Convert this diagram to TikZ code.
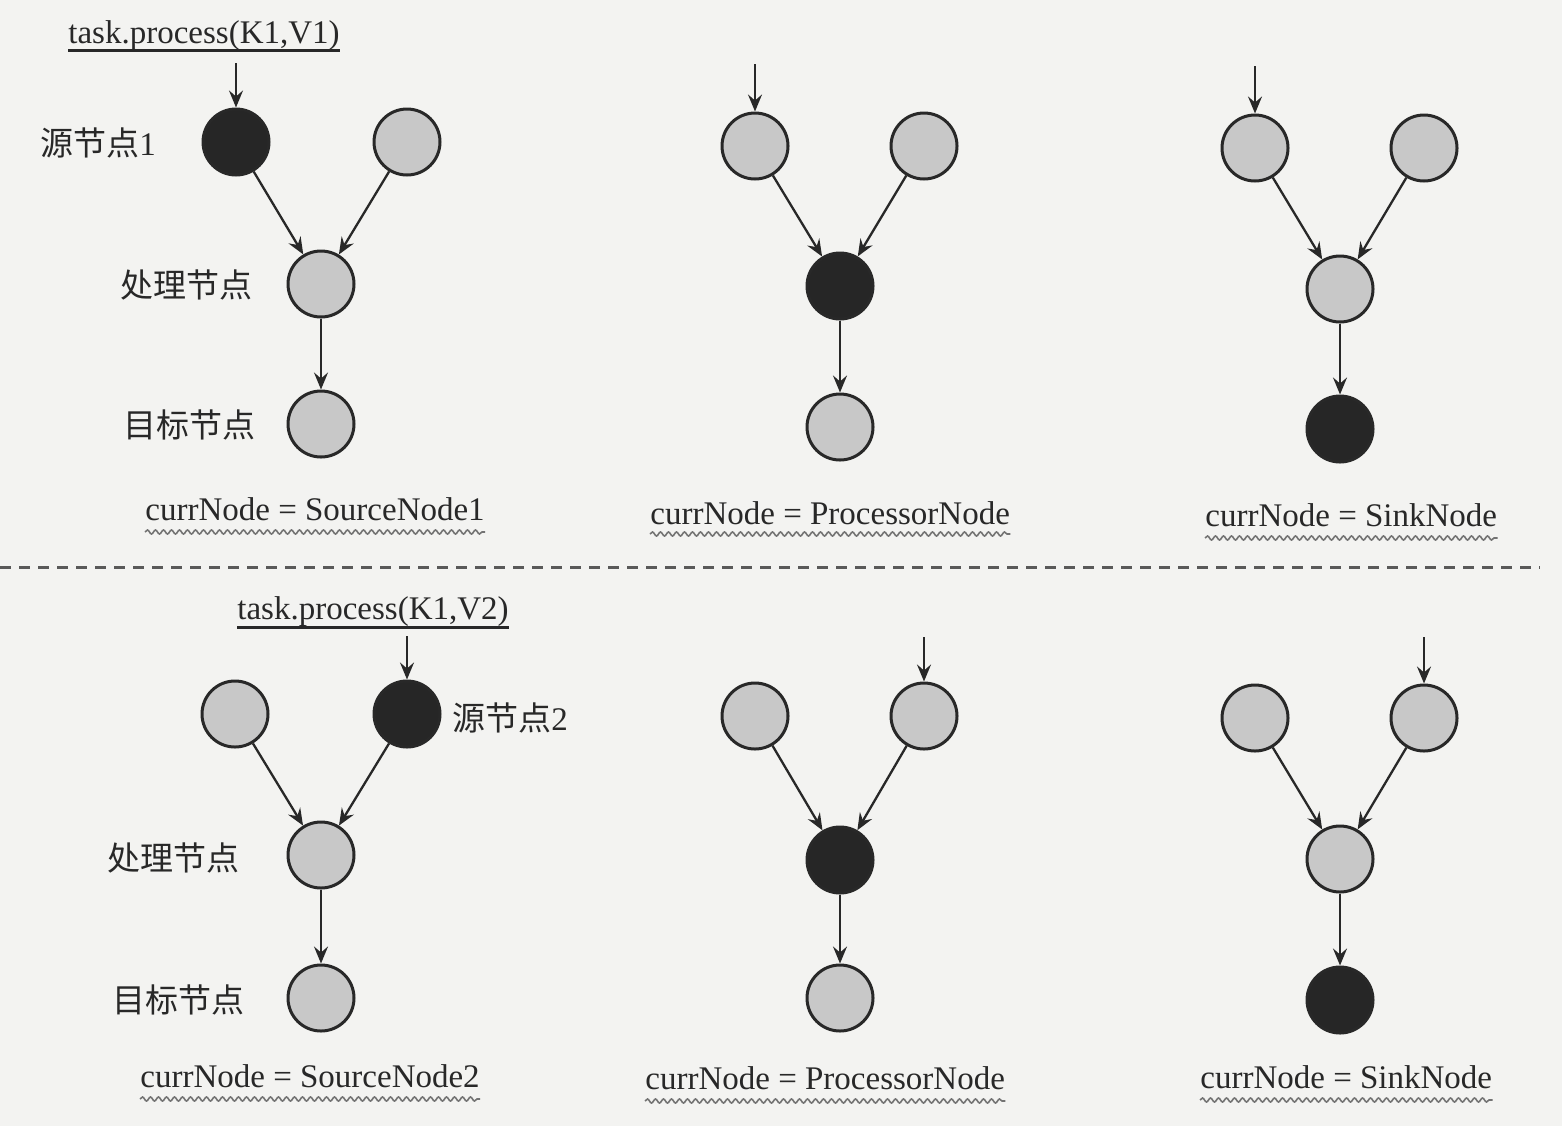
\documentclass[tikz,border=0pt]{standalone}
\usepackage{fontspec}
\setmainfont{Liberation Serif}
\newfontfamily\cjk{Noto Sans CJK SC}
\usetikzlibrary{arrows.meta,decorations.pathmorphing}
\definecolor{bgc}{RGB}{243,243,241}
\definecolor{nodegray}{RGB}{200,200,200}
\definecolor{nodedark}{RGB}{38,38,38}
\definecolor{inkc}{RGB}{40,40,40}
\begin{document}
\begin{tikzpicture}[x=0.5pt,y=-0.5pt,
  every node/.style={inner sep=0pt, text=inkc, font=\fontsize{16.5pt}{19pt}\selectfont},
  gnode/.style={circle, draw=inkc, line width=1.5pt, fill=nodegray, minimum size=33pt},
  bnode/.style={gnode, fill=nodedark},
  edge/.style={draw=inkc, line width=1.15pt, -{Stealth[length=8.5pt,width=7pt,inset=3pt]}},
  lbl/.style={anchor=west, font=\fontsize{16.5pt}{19pt}\cjk},
  cur/.style={anchor=base west},
  task/.style={anchor=base west},
  uline/.style={draw=inkc, line width=1.5pt},
  wavy/.style={draw=black!55, line width=0.8pt, decorate, decoration={snake, amplitude=1pt, segment length=4pt}},
  dashline/.style={draw=black!65, line width=1.5pt, dash pattern=on 5.5pt off 4pt}
]
\useasboundingbox (0,0) rectangle (1562,1126);
\fill[bgc] (0,0) rectangle (1562,1126);

% ---------- top half ----------
\node[task] (t1) at (68,43) {task.process(K1,V1)};
\draw[uline] ([yshift=-3.5pt]t1.base west) -- ([yshift=-3.5pt]t1.base east);

% top-left graph
\node[bnode] (A1) at (236,142) {};
\node[gnode] (A2) at (407,142) {};
\node[gnode] (A3) at (321,284) {};
\node[gnode] (A4) at (321,424) {};
\coordinate (a0) at (236,63);
\draw[edge] (a0) -- (A1);
\draw[edge] (A1) -- (A3);
\draw[edge] (A2) -- (A3);
\draw[edge] (A3) -- (A4);
\node[lbl] (l1) at (40,143) {源节点{\rmfamily 1}};
\node[lbl] (l2) at (120,285) {处理节点};
\node[lbl] (l3) at (123,425) {目标节点};
\node[cur] (c1) at (145,520) {currNode = SourceNode1};
\draw[wavy] ([yshift=-6pt]c1.base west) -- ([yshift=-6pt]c1.base east);

% top-middle graph
\node[gnode] (B1) at (755,146) {};
\node[gnode] (B2) at (924,146) {};
\node[bnode] (B3) at (840,286) {};
\node[gnode] (B4) at (840,427) {};
\coordinate (b0) at (755,64);
\draw[edge] (b0) -- (B1);
\draw[edge] (B1) -- (B3);
\draw[edge] (B2) -- (B3);
\draw[edge] (B3) -- (B4);
\node[cur] (c2) at (650,524) {currNode = ProcessorNode};
\draw[wavy] ([yshift=-5pt]c2.base west) -- ([yshift=-5pt]c2.base east);

% top-right graph
\node[gnode] (C1) at (1255,148) {};
\node[gnode] (C2) at (1424,148) {};
\node[gnode] (C3) at (1340,289) {};
\node[bnode] (C4) at (1340,429) {};
\coordinate (k0) at (1255,66);
\draw[edge] (k0) -- (C1);
\draw[edge] (C1) -- (C3);
\draw[edge] (C2) -- (C3);
\draw[edge] (C3) -- (C4);
\node[cur] (c3) at (1205,526) {currNode = SinkNode};
\draw[wavy] ([yshift=-6pt]c3.base west) -- ([yshift=-6pt]c3.base east);

% ---------- separator ----------
\coordinate (dl) at (0,567);
\coordinate (dr) at (1540,567);
\draw[dashline] (dl) -- (dr);

% ---------- bottom half ----------
\node[task] (t2) at (237,619) {task.process(K1,V2)};
\draw[uline] ([yshift=-4pt]t2.base west) -- ([yshift=-4pt]t2.base east);

% bottom-left graph
\node[gnode] (D1) at (235,714) {};
\node[bnode] (D2) at (407,714) {};
\node[gnode] (D3) at (321,855) {};
\node[gnode] (D4) at (321,998) {};
\coordinate (d0) at (407,636);
\draw[edge] (d0) -- (D2);
\draw[edge] (D1) -- (D3);
\draw[edge] (D2) -- (D3);
\draw[edge] (D3) -- (D4);
\node[lbl] (l4) at (452,718) {源节点{\rmfamily 2}};
\node[lbl] (l5) at (107,858) {处理节点};
\node[lbl] (l6) at (112,1000) {目标节点};
\node[cur] (c4) at (140,1087) {currNode = SourceNode2};
\draw[wavy] ([yshift=-6pt]c4.base west) -- ([yshift=-6pt]c4.base east);

% bottom-middle graph
\node[gnode] (E1) at (755,716) {};
\node[gnode] (E2) at (924,716) {};
\node[bnode] (E3) at (840,860) {};
\node[gnode] (E4) at (840,998) {};
\coordinate (e0) at (924,637);
\draw[edge] (e0) -- (E2);
\draw[edge] (E1) -- (E3);
\draw[edge] (E2) -- (E3);
\draw[edge] (E3) -- (E4);
\node[cur] (c5) at (645,1089) {currNode = ProcessorNode};
\draw[wavy] ([yshift=-6pt]c5.base west) -- ([yshift=-6pt]c5.base east);

% bottom-right graph
\node[gnode] (F1) at (1255,718) {};
\node[gnode] (F2) at (1424,718) {};
\node[gnode] (F3) at (1340,859) {};
\node[bnode] (F4) at (1340,1000) {};
\coordinate (f0) at (1424,637);
\draw[edge] (f0) -- (F2);
\draw[edge] (F1) -- (F3);
\draw[edge] (F2) -- (F3);
\draw[edge] (F3) -- (F4);
\node[cur] (c6) at (1200,1088) {currNode = SinkNode};
\draw[wavy] ([yshift=-6pt]c6.base west) -- ([yshift=-6pt]c6.base east);
\end{tikzpicture}
\end{document}
